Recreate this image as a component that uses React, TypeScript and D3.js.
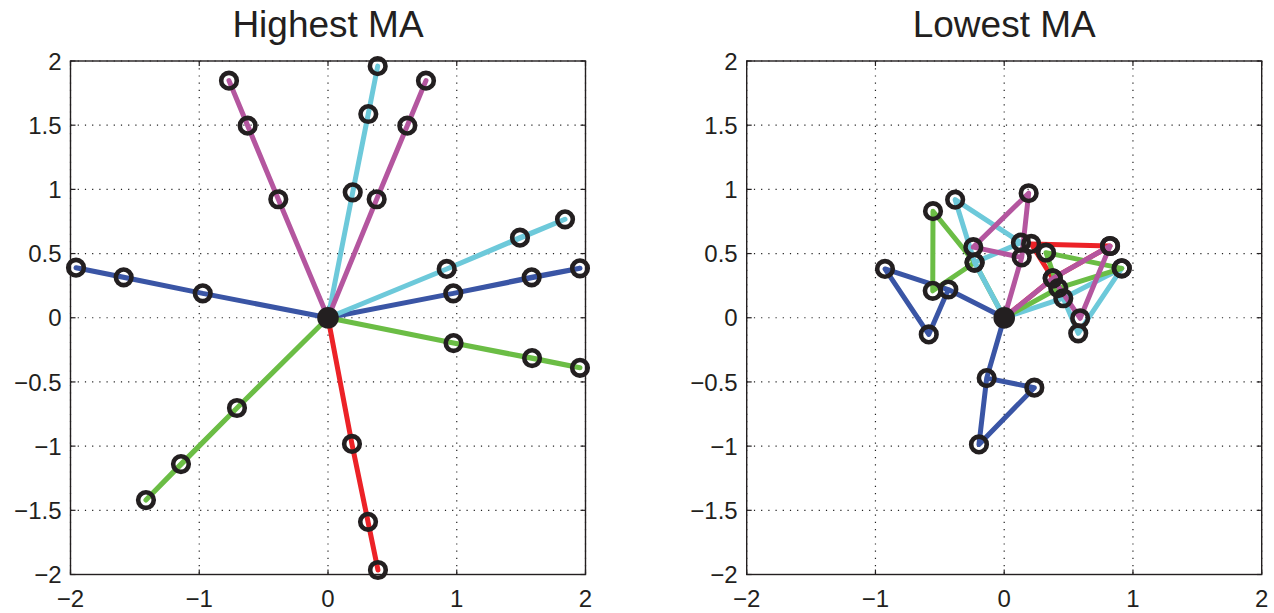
import React from "react";
import * as d3 from "d3";

type P = [number, number];

// ---------- data ----------
const titles = ["Highest MA", "Lowest MA"];
const xTicks = [-2, -1, 0, 1, 2];
const yTicks = [-2, -1.5, -1, -0.5, 0, 0.5, 1, 1.5, 2];

const seriesColors: Record<string, string> = {
  blue: "#3a55a5",
  green: "#6bbd45",
  cyan: "#6dc9da",
  red: "#ec2227",
  magenta: "#b4569f",
};

// Highest MA chains (p1, p2, p3)
const highBlueA: P[] = [[-0.973, 0.19], [-1.587, 0.315], [-1.957, 0.39]];
const highBlueB: P[] = [[0.973, 0.19], [1.582, 0.315], [1.957, 0.385]];
const highGreenA: P[] = [[-0.707, -0.703], [-1.142, -1.14], [-1.414, -1.42]];
const highGreenB: P[] = [[0.975, -0.197], [1.585, -0.314], [1.957, -0.39]];
const highRed: P[] = [[0.186, -0.983], [0.311, -1.59], [0.388, -1.965]];
const highCyanA: P[] = [[0.922, 0.38], [1.491, 0.624], [1.841, 0.767]];
const highCyanB: P[] = [[0.192, 0.977], [0.313, 1.587], [0.386, 1.96]];
const highMagentaA: P[] = [[0.378, 0.923], [0.616, 1.496], [0.761, 1.847]];
const highMagentaB: P[] = [[-0.386, 0.923], [-0.624, 1.496], [-0.769, 1.847]];

// Lowest MA chains (p1, p2, p3)
const lowBlueA: P[] = [[-0.434, 0.22], [-0.926, 0.38], [-0.586, -0.13]];
const lowBlueB: P[] = [[-0.136, -0.47], [0.234, -0.545], [-0.196, -0.987]];
const lowRed: P[] = [[0.377, 0.307], [0.21, 0.575], [0.822, 0.559]];
const lowGreenA: P[] = [[-0.23, 0.43], [-0.555, 0.21], [-0.553, 0.83]];
const lowGreenB: P[] = [[0.42, 0.23], [0.325, 0.507], [0.913, 0.385]];
const lowCyanA: P[] = [[-0.23, 0.43], [0.13, 0.585], [-0.381, 0.92]];
const lowCyanB: P[] = [[0.459, 0.152], [0.575, -0.121], [0.913, 0.385]];
const lowMagentaA: P[] = [[0.136, 0.47], [-0.24, 0.55], [0.19, 0.97]];
const lowMagentaB: P[] = [[0.377, 0.307], [0.59, -0.004], [0.822, 0.559]];

type Chain = { color: string; pts: P[] };

const highChains: Chain[] = [
  { color: "blue", pts: highBlueA },
  { color: "blue", pts: highBlueB },
  { color: "green", pts: highGreenA },
  { color: "green", pts: highGreenB },
  { color: "red", pts: highRed },
  { color: "cyan", pts: highCyanA },
  { color: "cyan", pts: highCyanB },
  { color: "magenta", pts: highMagentaA },
  { color: "magenta", pts: highMagentaB },
];

const lowChains: Chain[] = [
  { color: "blue", pts: lowBlueA },
  { color: "blue", pts: lowBlueB },
  { color: "red", pts: lowRed },
  { color: "green", pts: lowGreenA },
  { color: "cyan", pts: lowCyanA },
  { color: "cyan", pts: lowCyanB },
  { color: "green", pts: lowGreenB },
  { color: "magenta", pts: lowMagentaA },
  { color: "magenta", pts: lowMagentaB },
];

const origin: P = [0, 0];

// ---------- layout ----------
const W = 1274;
const H = 613;
const panels = [
  { x0: 70.5, x1: 585.5, chains: highChains },
  { x0: 746.7, x1: 1261.7, chains: lowChains },
];
const yTop = 61;
const yBot = 574.5;
const FONT = "'Liberation Sans', Arial, Helvetica, sans-serif";
const INK = "#231f20";

const fmt = (v: number) => {
  const s = String(Math.abs(v));
  return v < 0 ? "\u2212" + s : s;
};

function Panel({ x0, x1, chains, title }: { x0: number; x1: number; chains: Chain[]; title: string }) {
  const x = d3.scaleLinear().domain([-2, 2]).range([x0, x1]);
  const y = d3.scaleLinear().domain([-2, 2]).range([yBot, yTop]);
  const line = d3
    .line<P>()
    .x((d) => x(d[0]))
    .y((d) => y(d[1]));
  const tickLen = 5;
  return (
    <g>
      <text
        x={(x0 + x1) / 2}
        y={37}
        textAnchor="middle"
        fontFamily={FONT}
        fontSize={37}
        fill={INK}
      >
        {title}
      </text>
      {/* grid */}
      {xTicks.map((t) => (
        <line
          key={"gx" + t}
          x1={x(t)}
          x2={x(t)}
          y1={yTop}
          y2={yBot}
          stroke="#222"
          strokeWidth={1.2}
          strokeDasharray="1.2 6"
        />
      ))}
      {yTicks.map((t) => (
        <line
          key={"gy" + t}
          x1={x0}
          x2={x1}
          y1={y(t)}
          y2={y(t)}
          stroke="#222"
          strokeWidth={1.2}
          strokeDasharray="1.2 6"
        />
      ))}
      {/* ticks */}
      {xTicks.map((t) => (
        <g key={"tx" + t}>
          <line x1={x(t)} x2={x(t)} y1={yBot} y2={yBot - tickLen} stroke={INK} strokeWidth={1.2} />
          <line x1={x(t)} x2={x(t)} y1={yTop} y2={yTop + tickLen} stroke={INK} strokeWidth={1.2} />
          <text
            x={x(t)}
            y={607}
            textAnchor="middle"
            fontFamily={FONT}
            fontSize={24}
            fill={INK}
          >
            {fmt(t)}
          </text>
        </g>
      ))}
      {yTicks.map((t) => (
        <g key={"ty" + t}>
          <line x1={x0} x2={x0 + tickLen} y1={y(t)} y2={y(t)} stroke={INK} strokeWidth={1.2} />
          <line x1={x1} x2={x1 - tickLen} y1={y(t)} y2={y(t)} stroke={INK} strokeWidth={1.2} />
          <text
            x={x0 - 9}
            y={y(t)}
            dy="0.36em"
            textAnchor="end"
            fontFamily={FONT}
            fontSize={24}
            fill={INK}
          >
            {fmt(t)}
          </text>
        </g>
      ))}
      {/* lines */}
      {chains.map((c, i) => (
        <path
          key={"l" + i}
          d={line([origin, c.pts[0], c.pts[1], c.pts[2], c.pts[0]]) || ""}
          fill="none"
          stroke={seriesColors[c.color]}
          strokeWidth={5}
          strokeLinejoin="round"
          strokeLinecap="round"
        />
      ))}
      {/* markers */}
      {chains.map((c, i) =>
        c.pts.map((p, j) => (
          <circle
            key={"m" + i + "-" + j}
            cx={x(p[0])}
            cy={y(p[1])}
            r={7.8}
            fill="none"
            stroke={INK}
            strokeWidth={4.6}
          />
        ))
      )}
      <circle cx={x(origin[0])} cy={y(origin[1])} r={10.8} fill={INK} />
      {/* frame */}
      <rect x={x0} y={yTop} width={x1 - x0} height={yBot - yTop} fill="none" stroke={INK} strokeWidth={1.4} />
    </g>
  );
}

export default function App() {
  return (
    <svg
      width={W}
      height={H}
      style={{ position: "absolute", left: 0, top: 0, background: "#fff" }}
    >
      <rect width={W} height={H} fill="#fff" />
      {panels.map((p, i) => (
        <Panel key={i} x0={p.x0} x1={p.x1} chains={p.chains} title={titles[i]} />
      ))}
    </svg>
  );
}
